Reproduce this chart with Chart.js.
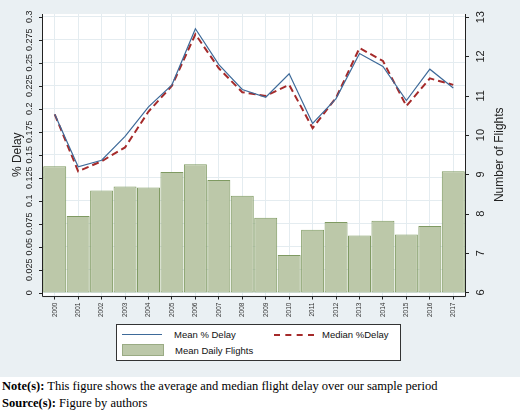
<!DOCTYPE html>
<html><head><meta charset="utf-8">
<script src="https://cdn.jsdelivr.net/npm/chart.js@4"></script>
<style>
body{margin:0;background:#fff;width:520px;height:413px;overflow:hidden;font-family:"Liberation Sans",Arial,sans-serif}
#panel{position:absolute;left:0;top:0;width:520px;height:377px;background:#eaf0f3}
#wrap{position:absolute;left:0;top:0;width:520px;height:377px}
#legend{position:absolute;left:116px;top:324px;width:283px;height:35px;background:#fff;border:1px solid #333;font-size:9.5px;color:#111}
.it{position:absolute;display:flex;align-items:center}
#notes{position:absolute;left:2px;top:378px;font-family:"Liberation Serif","Times New Roman",serif;font-size:12.5px;line-height:17px;color:#000}
</style></head><body>
<div id="panel"></div>
<div id="wrap"><canvas id="c" width="520" height="377"></canvas></div>
<div id="legend">
 <div class="it" style="left:5px;top:4px"><span style="display:inline-block;width:40px;border-top:1px solid #3e6a99;margin-right:12px"></span>Mean % Delay</div>
 <div class="it" style="left:157px;top:4px"><span style="display:inline-block;width:40px;border-top:2px dashed #a52a2a;margin-right:8px"></span>Median %Delay</div>
 <div class="it" style="left:5px;top:19px"><span style="display:inline-block;width:40px;height:10px;background:#bcc8a9;border:1px solid #9aab84;margin-right:11px"></span>Mean Daily Flights</div>
</div>
<div id="notes"><b>Note(s):</b> This figure shows the average and median flight delay over our sample period<br><b>Source(s):</b> Figure by authors</div>
<script>
const years=["2000","2001","2002","2003","2004","2005","2006","2007","2008","2009","2010","2011","2012","2013","2014","2015","2016","2017"];
const meanDelay=[0.194,0.137,0.144,0.170,0.202,0.226,0.287,0.248,0.221,0.2125,0.238,0.184,0.211,0.260,0.246,0.209,0.243,0.2226];
const medianDelay=[0.194,0.132,0.143,0.158,0.197,0.225,0.281,0.244,0.218,0.214,0.226,0.179,0.212,0.266,0.252,0.203,0.233,0.226];
const dailyFlights=[9.21,7.94,8.59,8.69,8.67,9.06,9.26,8.86,8.46,7.90,6.95,7.59,7.79,7.45,7.82,7.47,7.69,9.08];
const leftTicks=[0,0.025,0.05,0.075,0.1,0.125,0.15,0.175,0.2,0.225,0.25,0.275,0.3];
const leftTickLabels=["0","0.025","0.05","0.075","0.1","0.125","0.15","0.175","0.2","0.225","0.25","0.275","0.3"];
const rightTicks=[6,7,8,9,10,11,12,13];
const barBase=6;

const rotTicks={id:'rotTicks',afterDraw(ch){
 const c=ch.ctx;c.save();c.fillStyle='#222';c.font='9px "Liberation Sans",Arial';c.textAlign='center';c.textBaseline='middle';
 const L=ch.scales.y,R=ch.scales.y1,a=ch.chartArea;
 leftTicks.forEach((v,i)=>{const y=L.getPixelForValue(v);c.save();c.translate(a.left-13,y);c.rotate(-Math.PI/2);c.fillText(leftTickLabels[i],0,0);c.restore();});
 c.font='11px "Liberation Sans",Arial';
 rightTicks.forEach(v=>{const y=R.getPixelForValue(v);c.save();c.translate(a.right+16,y);c.rotate(-Math.PI/2);c.fillText(String(v),0,0);c.restore();});
 c.font='12px "Liberation Sans",Arial';
 c.save();c.translate(18,(a.top+a.bottom)/2);c.rotate(-Math.PI/2);c.fillText('% Delay',0,0);c.restore();
 c.save();c.translate(a.right+35,(a.top+a.bottom)/2);c.rotate(-Math.PI/2);c.fillText('Number of Flights',0,0);c.restore();
 c.strokeStyle='#222';c.lineWidth=1;c.beginPath();c.moveTo(a.left-0.5,a.top);c.lineTo(a.left-0.5,a.bottom+1);c.lineTo(a.right+0.5,a.bottom+1);c.lineTo(a.right+0.5,a.top);c.stroke();
 leftTicks.forEach(v=>{const y=Math.round(L.getPixelForValue(v))+0.5;c.beginPath();c.moveTo(a.left-4,y);c.lineTo(a.left,y);c.stroke();});
 rightTicks.forEach(v=>{const y=Math.round(R.getPixelForValue(v))+0.5;c.beginPath();c.moveTo(a.right,y);c.lineTo(a.right+4,y);c.stroke();});
 c.restore();
}};
const bgPlot={id:'bgPlot',beforeDraw(ch){const a=ch.chartArea,c=ch.ctx;c.save();c.fillStyle='#fff';c.fillRect(a.left,a.top,a.right-a.left,a.bottom-a.top);c.restore();}};

new Chart(document.getElementById('c'),{
 data:{labels:years,datasets:[
  {type:'line',label:'Mean % Delay',data:meanDelay,yAxisID:'y',borderColor:'#3e6a99',borderWidth:1.2,pointRadius:0,tension:0,order:1},
  {type:'line',label:'Median %Delay',data:medianDelay,yAxisID:'y',borderColor:'#a52a2a',borderWidth:2,borderDash:[7,4],pointRadius:0,tension:0,order:2},
  {type:'bar',label:'Mean Daily Flights',data:dailyFlights.map(v=>[barBase,v]),yAxisID:'y1',backgroundColor:'#bcc8a9',borderColor:'#7f9a62',borderWidth:1,borderSkipped:false,barPercentage:1,categoryPercentage:0.98,order:3}
 ]},
 options:{responsive:false,animation:false,
  layout:{padding:{left:43,right:47,top:14,bottom:57}},
  plugins:{legend:{display:false},tooltip:{enabled:false}},
  scales:{
   x:{offset:true,grid:{color:'#e4ecf0',offset:false,drawTicks:true,tickLength:4,tickColor:'#222'},border:{display:false},
      ticks:{minRotation:90,maxRotation:90,font:{size:6.5,family:'"Liberation Sans",Arial'},color:'#333',padding:3}},
   y:{position:'left',min:-0.003,max:0.303,afterBuildTicks:s=>{s.ticks=leftTicks.map(v=>({value:v}));},
      grid:{color:'#e4ecf0',drawTicks:false},border:{display:false},ticks:{display:false}},
   y1:{position:'right',min:5.92,max:13.08,afterBuildTicks:s=>{s.ticks=rightTicks.map(v=>({value:v}));},
      grid:{display:false},border:{display:false},ticks:{display:false}}
  }},
 plugins:[bgPlot,rotTicks]
});
</script></body></html>
